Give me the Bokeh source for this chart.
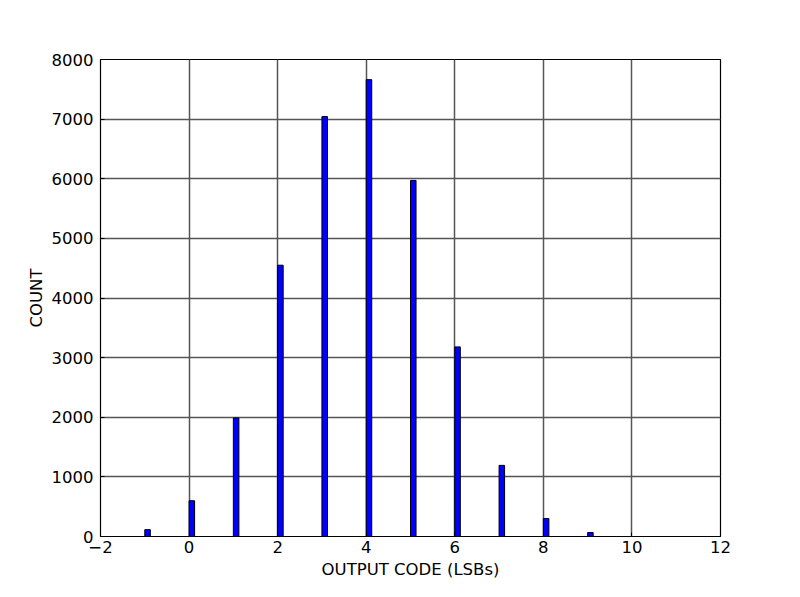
from bokeh.plotting import figure
from bokeh.models import FixedTicker, Range1d
from bokeh.embed import file_html
from bokeh.resources import INLINE

codes = [-1, 0, 1, 2, 3, 4, 5, 6, 7, 8, 9]
counts = [115, 600, 1988, 4550, 7043, 7662, 5972, 3180, 1193, 301, 67]
bar_width = 0.125
x_ticks = [-2, 0, 2, 4, 6, 8, 10, 12]
y_ticks = [0, 1000, 2000, 3000, 4000, 5000, 6000, 7000, 8000]

p = figure(width=784, height=581, output_backend="svg", toolbar_location=None,
           x_range=Range1d(-2, 12), y_range=Range1d(0, 8000),
           min_border_left=100, min_border_right=64, min_border_top=59, min_border_bottom=44)

p.quad(left=codes, right=[c + bar_width for c in codes], bottom=0, top=counts,
       fill_color="#0000ff", line_color="black", line_width=1)

font = "DejaVu Sans"
for ax in (p.xaxis[0], p.yaxis[0]):
    ax.axis_line_color = None
    ax.major_tick_in = 4
    ax.major_tick_out = 0
    ax.minor_tick_line_color = None
    ax.major_tick_line_color = "black"
    ax.major_label_text_font = font
    ax.major_label_text_font_size = "16.5px"
    ax.major_label_text_color = "black"
    ax.axis_label_text_font = font
    ax.axis_label_text_font_size = "16.5px"
    ax.axis_label_text_font_style = "normal"
    ax.axis_label_text_color = "black"

p.xaxis.ticker = FixedTicker(ticks=x_ticks)
p.yaxis.ticker = FixedTicker(ticks=y_ticks)
p.xaxis.major_label_overrides = {t: (str(t).replace("-", "\u2212")) for t in x_ticks}
p.xaxis.axis_label = "OUTPUT CODE (LSBs)"
p.yaxis.axis_label = "COUNT"
p.xaxis.major_label_standoff = 4
p.yaxis.major_label_standoff = 7
p.xaxis.axis_label_standoff = 4
p.yaxis.axis_label_standoff = 3

p.grid.grid_line_color = "#555555"
p.grid.grid_line_width = 1.5
p.outline_line_color = "black"
p.outline_line_width = 1.2
p.background_fill_color = "white"
p.border_fill_color = "white"

open("out.html", "w").write(file_html(p, INLINE))
